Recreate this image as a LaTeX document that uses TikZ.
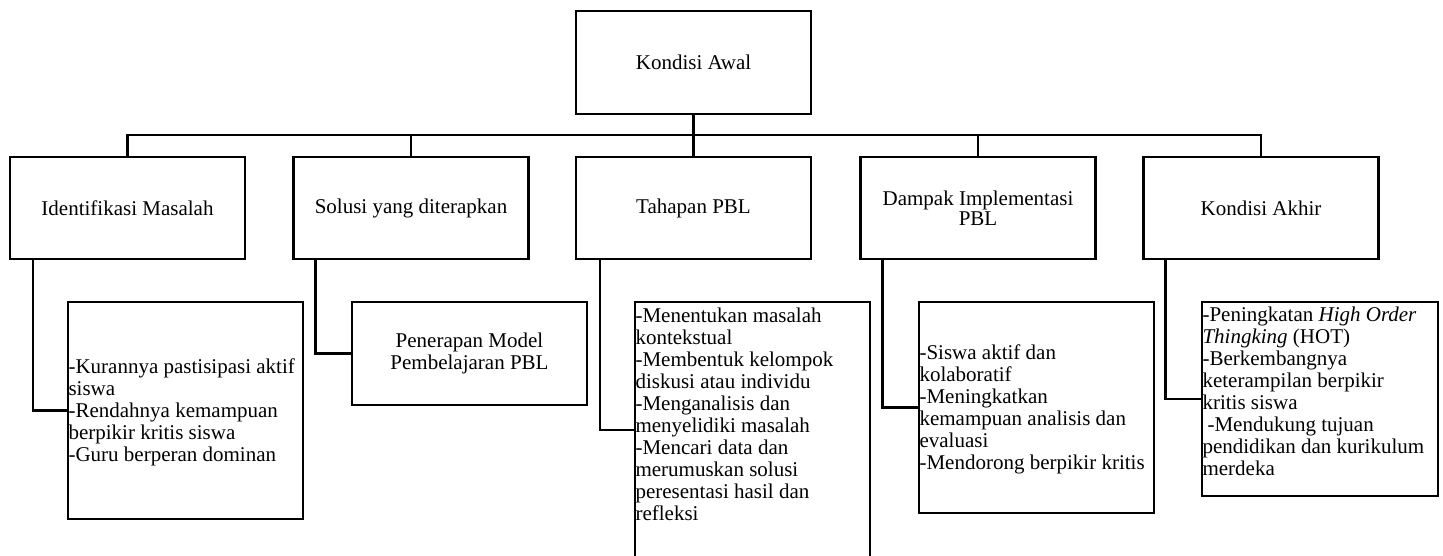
\documentclass[tikz,border=0pt]{standalone}
\usepackage{fontspec}
\setmainfont{Liberation Serif}
\begin{document}
\begin{tikzpicture}[x=1pt,y=-1pt,
  boxst/.style={draw, line width=2.3pt, minimum width=235pt, inner sep=0pt, align=center, font=\fontsize{21}{22}\selectfont},
  txt/.style={inner sep=0pt, align=left, font=\fontsize{21}{22}\selectfont},
  conn/.style={line width=2.3pt}]
\useasboundingbox (0,0) rectangle (1443,555);
\fill[white] (0,0) rectangle (1443,555);
\clip (0,0) rectangle (1443,555);
% top
\node[boxst, minimum height=103pt] (ka) at (693.5,62.5) {Kondisi Awal};
% row 2
\node[boxst, minimum height=102pt] (b1) at (127.5,208) {Identifikasi Masalah};
\node[boxst, minimum height=102pt] (b2) at (411,208) {Solusi yang diterapkan};
\node[boxst, minimum height=102pt] (b3) at (693.5,208) {Tahapan PBL};
\node[boxst, minimum height=102pt, font=\fontsize{21}{20}\selectfont] (b4) at (978,208) {Dampak Implementasi\\PBL};
\node[boxst, minimum height=102pt] (b5) at (1261,208) {Kondisi Akhir};
% bus
\coordinate (bus) at (0,135);
\draw[conn] (ka.south) -- (b3.north);
\draw[conn] (b1.north) -- (b1.north |- bus) -- (b5.north |- bus) -- (b5.north);
\draw[conn] (b2.north) -- (b2.north |- bus);
\draw[conn] (b4.north) -- (b4.north |- bus);
% row 3 boxes
\node[boxst, minimum height=217pt] (ra) at (185.5,410.5) {};
\node[boxst, minimum height=103pt] (rb) at (469.5,353.5) {Penerapan Model\\Pembelajaran PBL};
\node[boxst, minimum height=256pt] (rc) at (752.5,430) {};
\node[boxst, minimum height=211pt] (rd) at (1036.5,407.5) {};
\node[boxst, minimum height=194pt, minimum width=236pt] (re) at (1320,399) {};
% row 3 texts
\node[txt, anchor=west] (ta) at ([xshift=1.5pt,yshift=-2pt]ra.west) {-Kurannya pastisipasi aktif\\siswa\\-Rendahnya kemampuan\\berpikir kritis siswa\\-Guru berperan dominan};
\node[txt, anchor=north west] (tc) at ([xshift=1.5pt,yshift=-7pt]rc.north west) {-Menentukan masalah\\kontekstual\\-Membentuk kelompok\\diskusi atau individu\\-Menganalisis dan\\menyelidiki masalah\\-Mencari data dan\\merumuskan solusi\\peresentasi hasil dan\\refleksi};
\node[txt, anchor=west] (td) at ([xshift=1.5pt,yshift=-2pt]rd.west) {-Siswa aktif dan\\kolaboratif\\-Meningkatkan\\kemampuan analisis dan\\evaluasi\\-Mendorong berpikir kritis};
\node[txt, anchor=north west] (te) at ([xshift=1.5pt,yshift=-6pt]re.north west) {-Peningkatan \textit{High Order}\\\textit{Thingking} (HOT)\\-Berkembangnya\\keterampilan berpikir\\kritis siswa\\\kern5pt-Mendukung tujuan\\pendidikan dan kurikulum\\merdeka};
% row 2 -> row 3 connectors
\draw[conn] ([xshift=24pt]b1.south west) |- (ra.west);
\draw[conn] ([xshift=23pt]b2.south west) |- (rb.west);
\draw[conn] ([xshift=25pt]b3.south west) |- (rc.west);
\draw[conn] ([xshift=23pt]b4.south west) |- (rd.west);
\draw[conn] ([xshift=23pt]b5.south west) |- (re.west);
\end{tikzpicture}
\end{document}
